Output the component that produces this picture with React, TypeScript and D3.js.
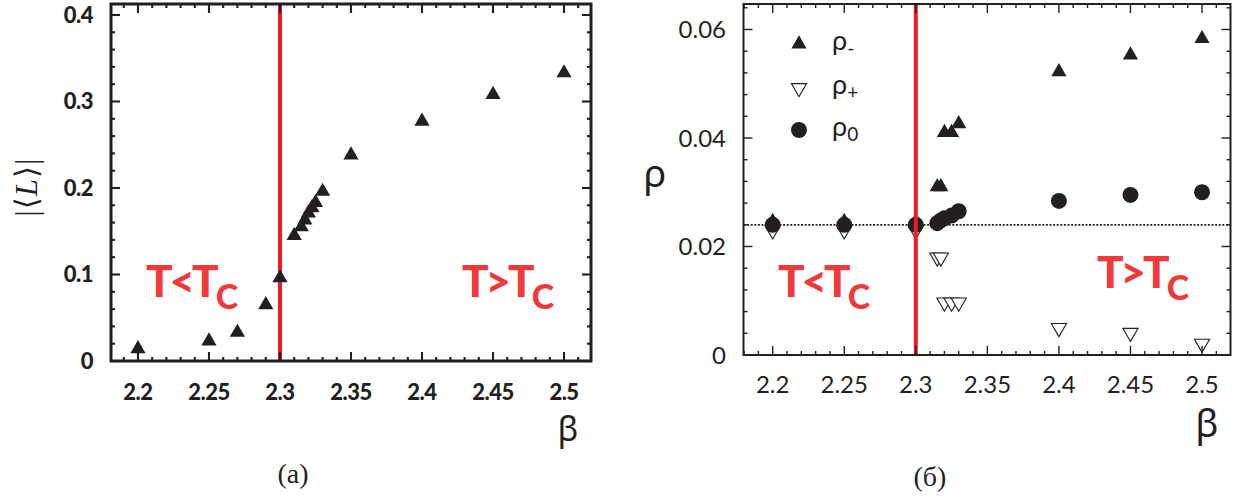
import * as d3 from 'd3';

// panel (a): Polyakov loop vs beta
const betaA = [2.2, 2.25, 2.27, 2.29, 2.3, 2.31, 2.315, 2.3175, 2.32, 2.3225, 2.325, 2.33, 2.35, 2.4, 2.45, 2.5];
const loopA = [0.014, 0.023, 0.033, 0.065, 0.096, 0.145, 0.155, 0.163, 0.171, 0.177, 0.183, 0.196, 0.238, 0.277, 0.308, 0.333];

// panel (б): densities vs beta
const betaB = [2.2, 2.25, 2.3, 2.315, 2.3175, 2.32, 2.325, 2.33, 2.4, 2.45, 2.5];
const rhoMinus = [0.0246, 0.0246, 0.0246, 0.031, 0.031, 0.041, 0.041, 0.0426, 0.0522, 0.0553, 0.0583];
const rhoPlus = [0.023, 0.023, 0.023, 0.018, 0.018, 0.0097, 0.0097, 0.0097, 0.005, 0.0041, 0.0021];
const rhoZero = [0.024, 0.024, 0.024, 0.0243, 0.0248, 0.0252, 0.0257, 0.0265, 0.0284, 0.0295, 0.03];

const xTicks = [2.2, 2.25, 2.3, 2.35, 2.4, 2.45, 2.5];
const xTickLabels = ['2.2', '2.25', '2.3', '2.35', '2.4', '2.45', '2.5'];
const yTicksA = [0, 0.1, 0.2, 0.3, 0.4];
const yTickLabelsA = ['0', '0.1', '0.2', '0.3', '0.4'];
const yTicksB = [0, 0.02, 0.04, 0.06];
const yTickLabelsB = ['0', '0.02', '0.04', '0.06'];
const betaCritical = 2.3;
const rhoLevel = 0.024;

const INK = '#231f20';
const RED = '#ed1c24';
const TXT_RED = '#ef3a3b';
const SANS = 'Lato, "Open Sans", sans-serif';
const SERIF = '"Liberation Serif", "DejaVu Serif", serif';

const tri = d3.symbol().type(d3.symbolTriangle).size(100)();
const dot = d3.symbol().type(d3.symbolCircle).size(200)();

function Frame({ x, y, yMinor, xMinor, width, major, minor }) {
  const [x0, x1] = x.range();
  const [y0, y1] = y.range();
  return (
    <g stroke={INK} fill="none">
      {xMinor.map((t, i) => {
        const big = xTicks.some((m) => Math.abs(m - t) < 1e-6);
        const len = big ? major : minor;
        return (
          <g key={'x' + i} strokeWidth={width * 0.7}>
            <line x1={x(t)} x2={x(t)} y1={y0} y2={y0 - len} />
            <line x1={x(t)} x2={x(t)} y1={y1} y2={y1 + len} />
          </g>
        );
      })}
      {yMinor.map((t, i) => {
        const len = i % 5 === 0 ? major : minor;
        return (
          <g key={'y' + i} strokeWidth={width * 0.7}>
            <line x1={x0} x2={x0 + len} y1={y(t)} y2={y(t)} />
            <line x1={x1} x2={x1 - len} y1={y(t)} y2={y(t)} />
          </g>
        );
      })}
      <rect x={x0} y={y1} width={x1 - x0} height={y0 - y1} strokeWidth={width} />
    </g>
  );
}

function PanelA() {
  const x = d3.scaleLinear().domain([2.181, 2.519]).range([111, 591]);
  const y = d3.scaleLinear().domain([0, 0.4127]).range([361, 4]);
  const xMinor = d3.range(2.19, 2.515, 0.01);
  const yMinor = d3.range(0, 0.41, 0.02);
  return (
    <g>
      <line x1={x(betaCritical)} x2={x(betaCritical)} y1={y.range()[1]} y2={y.range()[0]} stroke={RED} strokeWidth={4} />
      <Frame x={x} y={y} xMinor={xMinor} yMinor={yMinor} width={3} major={9} minor={4} />
      {betaA.map((b, i) => (
        <path key={i} d={tri} transform={`translate(${x(b)},${y(loopA[i])})`} fill={INK} />
      ))}
      {yTicksA.map((t, i) => (
        <text key={i} x={93} y={y(t)} dy="0.36em" textAnchor="end" fontFamily={SANS} fontWeight={900} fontSize={22} letterSpacing={-0.5} fill={INK}>
          {yTickLabelsA[i]}
        </text>
      ))}
      {xTicks.map((t, i) => (
        <text key={i} x={x(t)} y={400} textAnchor="middle" fontFamily={SANS} fontWeight={900} fontSize={22} letterSpacing={-0.5} fill={INK}>
          {xTickLabels[i]}
        </text>
      ))}
      <text x={568} y={441} textAnchor="middle" fontFamily='"Noto Sans", sans-serif' fontSize={34} fill={INK}>β</text>
      <text transform="translate(37,187) rotate(-90)" textAnchor="middle" fontFamily={SERIF} fontSize={31} letterSpacing={1} fill={INK}>
        |⟨<tspan fontStyle="italic">L</tspan>⟩|
      </text>
      <text x={146} y={297} fontFamily={SANS} fontWeight={900} fontSize={44} letterSpacing={-3} fill={TXT_RED}>
        T&lt;T<tspan dy={12} fontSize={34}>C</tspan>
      </text>
      <text x={462} y={297} fontFamily={SANS} fontWeight={900} fontSize={44} letterSpacing={-3} fill={TXT_RED}>
        T&gt;T<tspan dy={12} fontSize={34}>C</tspan>
      </text>
      <text x={293} y={483} textAnchor="middle" fontFamily={SERIF} fontSize={28} fill={INK}>(a)</text>
    </g>
  );
}

function PanelB() {
  const x = d3.scaleLinear().domain([2.1796, 2.5199]).range([743.5, 1230.5]);
  const y = d3.scaleLinear().domain([0, 0.0647]).range([355, 4]);
  const xMinor = d3.range(2.18, 2.515, 0.01);
  const yMinor = d3.range(0, 0.0645, 0.004);
  const legend = [
    { sym: 'up', sub: '-' },
    { sym: 'down', sub: '+' },
    { sym: 'dot', sub: '0' },
  ];
  const legendY = [44, 88, 130];
  const marker = (kind) =>
    kind === 'dot' ? (
      <path d={dot} fill={INK} />
    ) : kind === 'up' ? (
      <path d={tri} fill={INK} />
    ) : (
      <path d={tri} transform="rotate(180)" fill="#fff" stroke={INK} strokeWidth={1.1} />
    );
  return (
    <g>
      <line x1={x.range()[0]} x2={x.range()[1]} y1={y(rhoLevel)} y2={y(rhoLevel)} stroke={INK} strokeWidth={1.8} strokeDasharray="2 1.6" />
      {betaB.map((b, i) => (
        <g key={'p' + i} transform={`translate(${x(b)},${y(rhoPlus[i])})`}>{marker('down')}</g>
      ))}
      {betaB.map((b, i) => (
        <g key={'z' + i} transform={`translate(${x(b)},${y(rhoZero[i])})`}>{marker('dot')}</g>
      ))}
      {betaB.map((b, i) => (
        <g key={'m' + i} transform={`translate(${x(b)},${y(rhoMinus[i])})`}>{marker('up')}</g>
      ))}
      <line x1={x(betaCritical)} x2={x(betaCritical)} y1={y.range()[1]} y2={y.range()[0]} stroke={RED} strokeWidth={4} />
      <Frame x={x} y={y} xMinor={xMinor} yMinor={yMinor} width={2} major={9} minor={4} />
      {legend.map((l, i) => (
        <g key={i}>
          <g transform={`translate(799,${legendY[i]})`}>{marker(l.sym)}</g>
          <text x={832} y={legendY[i] + 6} fontFamily={SANS} fontSize={27} fill={INK}>
            ρ<tspan dy={5} fontSize={19}>{l.sub}</tspan>
          </text>
        </g>
      ))}
      {yTicksB.map((t, i) => (
        <text key={i} x={726} y={y(t)} dy="0.36em" textAnchor="end" fontFamily={SANS} fontSize={24} fill={INK}>
          {yTickLabelsB[i]}
        </text>
      ))}
      {xTicks.map((t, i) => (
        <text key={i} x={x(t)} y={393} textAnchor="middle" fontFamily={SANS} fontSize={24} fill={INK}>
          {xTickLabels[i]}
        </text>
      ))}
      <text x={1207} y={437} textAnchor="middle" fontFamily='"Noto Sans", sans-serif' fontSize={38} fill={INK}>β</text>
      <text x={655} y={187} textAnchor="middle" fontFamily='"Noto Sans", sans-serif' fontSize={38} fill={INK}>ρ</text>
      <text x={778} y={297} fontFamily={SANS} fontWeight={900} fontSize={44} letterSpacing={-3} fill={TXT_RED}>
        T&lt;T<tspan dy={12} fontSize={34}>C</tspan>
      </text>
      <text x={1097} y={288} fontFamily={SANS} fontWeight={900} fontSize={44} letterSpacing={-3} fill={TXT_RED}>
        T&gt;T<tspan dy={12} fontSize={34}>C</tspan>
      </text>
      <text x={930} y={486} textAnchor="middle" fontFamily={SERIF} fontSize={28} fill={INK}>(б)</text>
    </g>
  );
}

export default function App() {
  return (
    <svg width={1253} height={499} style={{ position: 'absolute', left: 0, top: 0, background: '#fff' }}>
      <rect width={1253} height={499} fill="#fff" />
      <PanelA />
      <PanelB />
    </svg>
  );
}
